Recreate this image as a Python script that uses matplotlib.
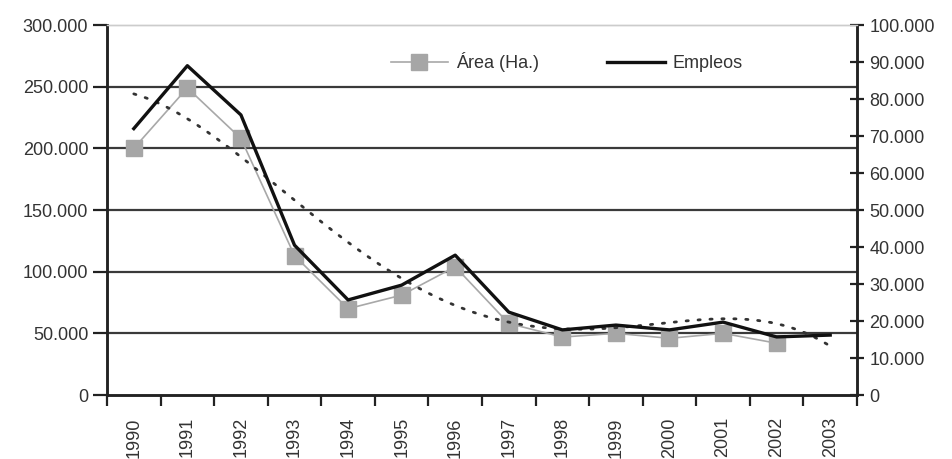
import numpy as np
import matplotlib
matplotlib.use("Agg")
import matplotlib.pyplot as plt
from matplotlib.ticker import FuncFormatter, MultipleLocator

years = [1990, 1991, 1992, 1993, 1994, 1995, 1996, 1997, 1998, 1999, 2000, 2001, 2002, 2003]
area = [200000, 249000, 208000, 113000, 70000, 81000, 104000, 58000, 47000, 50000, 46000, 50000, 42000, np.nan]
empleos = [72000, 89000, 75700, 40500, 25700, 29700, 37800, 22400, 17600, 18900, 17600, 19700, 15700, 16200]

plt.rcParams['font.family'] = ['Liberation Sans', 'DejaVu Sans']


def miles(v, pos):
    return f"{int(round(v)):,}".replace(",", ".")


fig = plt.figure(figsize=(9.52, 4.59), dpi=100)
ax = fig.add_axes([0.1124, 0.1394, 0.7878, 0.8061])
ax2 = ax.twinx()

x = np.arange(len(years))
area_a = np.array(area, dtype=float)
emp_a = np.array(empleos, dtype=float)

# linea de tendencia polinomica (orden 4) de Empleos, como en Excel
p = np.polyfit(x, emp_a, 4)
xx = np.linspace(0, len(years) - 1, 200)
ax2.plot(xx, np.polyval(p, xx), color='#333333', lw=2.0, ls=(0, (0.8, 3.5)),
         dash_capstyle='round', zorder=2)

ax.plot(x, area_a, color='#a8a8a8', lw=1.2, marker='s', ms=12, mfc='#a6a6a6', mec='#a6a6a6',
        label='Área (Ha.)', zorder=3)
ln, = ax2.plot(x, emp_a, color='#111111', lw=2.4, label='Empleos', zorder=4)

ax.set_xlim(-0.5, 13.5)
ax.set_ylim(0, 300000)
ax2.set_ylim(0, 100000)
ax.yaxis.set_major_locator(MultipleLocator(50000))
ax2.yaxis.set_major_locator(MultipleLocator(10000))
ax.yaxis.set_major_formatter(FuncFormatter(miles))
ax2.yaxis.set_major_formatter(FuncFormatter(miles))

for v in range(50000, 300000, 50000):
    ax.axhline(v, color='#3a3a3a', lw=1.6, zorder=1)

ax.set_xticks(x)
ax.set_xticklabels([str(y) for y in years], rotation=90)
ax.set_xticks(np.arange(-0.5, 14, 1), minor=True)
ax.tick_params(axis='x', which='major', length=0, pad=16, labelsize=13, labelcolor='#333333')
ax.tick_params(axis='x', which='minor', length=8, width=1.6, direction='out', color='#222222')
ax.tick_params(axis='y', length=10, width=1.6, direction='out', labelsize=13, labelcolor='#333333',
               color='#222222')
ax2.tick_params(axis='y', length=10, width=1.6, direction='inout', labelsize=13,
                labelcolor='#333333', color='#222222', pad=4)

for a in (ax, ax2):
    for s in ['left', 'right', 'bottom']:
        a.spines[s].set_color('#222222')
        a.spines[s].set_linewidth(1.8)
    a.spines['top'].set_color('#cccccc')
    a.spines['top'].set_linewidth(1.0)

h1, l1 = ax.get_legend_handles_labels()
fig.legend(h1 + [ln], l1 + ['Empleos'], loc='center', bbox_to_anchor=(0.595, 0.865), ncol=2,
           frameon=False, fontsize=13, handlelength=3.2, columnspacing=3.8, handletextpad=0.4,
           labelcolor='#333333')

fig.savefig('out.png', dpi=100)
